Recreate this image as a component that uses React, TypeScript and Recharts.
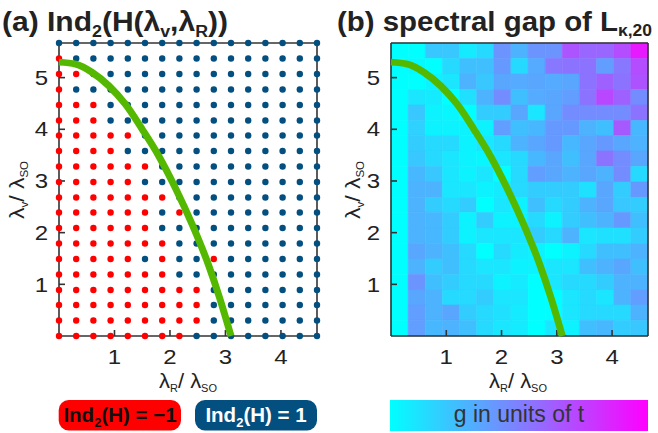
// Two-panel figure: (a) Z2 index on the (λR, λv) grid, (b) spectral gap heatmap.
// Both panels share the same axes and the green phase-boundary curve.

import { ComposedChart, ReferenceArea, Scatter, XAxis, YAxis } from 'recharts'

// grid points (in units of λSO)
const LAMBDA_R = [0, 0.31, 0.62, 0.93, 1.24, 1.55, 1.86, 2.17, 2.48, 2.79, 3.1, 3.41, 3.72, 4.03, 4.34, 4.65]
const LAMBDA_V = [
  0, 0.3, 0.6, 0.89, 1.19, 1.49, 1.79, 2.09, 2.39, 2.68, 2.98, 3.28, 3.58, 3.88, 4.17, 4.47, 4.77,
  5.07, 5.37, 5.67,
]

// Ind2 at each grid point, top row first. '-' = -1, '+' = +1
const IND2_ROWS = [
  '++++++++++++++++',
  '-+++++++++++++++',
  '--++++++++++++++',
  '-+++++++++++++++',
  '---+++++++++++++',
  '---+++++++++++++',
  '-----+++++++++++',
  '----++++++++++++',
  '------++++++++++',
  '-----+++++++++++',
  '-------+++++++++',
  '------+-++++++++',
  '------++++++++++',
  '-------+++++++++',
  '-----+-++-++++++',
  '-------+++++++++',
  '---------+++++++',
  '---------+++++++',
  '---------+++++++',
  '--------++++++++',
]

// phase boundary (green curve)
const BOUNDARY_R = [0, 0.3, 0.6, 0.9, 1.2, 1.5, 1.8, 2.1, 2.4, 2.7, 2.9, 3.1]
const BOUNDARY_V = [5.3, 5.26, 5.1, 4.84, 4.48, 4.0, 3.48, 2.86, 2.16, 1.36, 0.72, 0]

// spectral gap, normalised 0 (cyan) .. 1 (magenta); top row first, 15 cells per row
const GAP_ROWS = [
  [0, 0, 0.22, 0.22, 0.08, 0.15, 0.42, 0.3, 0.42, 0.42, 0.67, 0.6, 0.6, 0.7, 0.9],
  [0, 0.02, 0, 0.15, 0.25, 0.25, 0.4, 0.15, 0.33, 0.53, 0.55, 0.55, 0.38, 0.53, 0.7],
  [0, 0, 0.05, 0.1, 0.3, 0.22, 0.35, 0.33, 0.35, 0.33, 0.35, 0.55, 0.62, 0.55, 0.68],
  [0, 0.1, 0.08, 0, 0.12, 0.3, 0.45, 0.25, 0.33, 0.35, 0.38, 0.55, 0.72, 0.62, 0.45],
  [0, 0.22, 0.05, 0.03, 0, 0.2, 0.2, 0.35, 0.1, 0.35, 0.45, 0.45, 0.45, 0.45, 0.55],
  [0, 0.18, 0.05, 0.05, 0.05, 0.05, 0.38, 0.25, 0.28, 0.4, 0.4, 0.3, 0.25, 0.65, 0.28],
  [0, 0.2, 0.15, 0.15, 0.05, 0.1, 0.15, 0.3, 0.35, 0.4, 0.28, 0.35, 0.4, 0.35, 0.3],
  [0, 0.22, 0.15, 0.1, 0.05, 0.03, 0.1, 0.15, 0.28, 0.35, 0.25, 0.35, 0.55, 0.45, 0.35],
  [0, 0.28, 0.22, 0.1, 0.05, 0.1, 0, 0.15, 0.38, 0.35, 0.3, 0.35, 0.3, 0.45, 0.15],
  [0, 0.3, 0.3, 0.1, 0.1, 0.05, 0.08, 0.15, 0.2, 0.2, 0.2, 0.12, 0.35, 0.2, 0.4],
  [0, 0.3, 0.2, 0.15, 0.2, 0, 0.1, 0.05, 0.25, 0.15, 0.2, 0.3, 0.35, 0.22, 0.2],
  [0, 0.3, 0.28, 0.2, 0.05, 0.2, 0.05, 0.05, 0.15, 0.05, 0.2, 0.25, 0.3, 0.4, 0.25],
  [0, 0.3, 0.28, 0.2, 0.05, 0.1, 0.1, 0.1, 0.2, 0.15, 0.3, 0.1, 0.12, 0.12, 0.2],
  [0, 0.35, 0.3, 0.25, 0.15, 0, 0.15, 0.08, 0.05, 0, 0.05, 0.15, 0.25, 0.25, 0.3],
  [0, 0.3, 0.2, 0.25, 0.15, 0.1, 0.1, 0.05, 0.05, 0.1, 0.1, 0.25, 0.3, 0.35, 0.25],
  [0, 0.42, 0.25, 0.2, 0.15, 0.15, 0.05, 0.08, 0, 0.1, 0.15, 0.15, 0.2, 0.3, 0.3],
  [0, 0.35, 0.3, 0.15, 0.15, 0.2, 0.1, 0.1, 0, 0, 0.1, 0.15, 0.1, 0.3, 0.38],
  [0, 0.38, 0.3, 0.35, 0.2, 0.15, 0.12, 0.08, 0, 0, 0.1, 0.15, 0.15, 0.15, 0.3],
  [0, 0.38, 0.28, 0.3, 0.25, 0.15, 0.1, 0.08, 0, 0.1, 0.05, 0.25, 0.28, 0.2, 0.22],
]

const X_TICKS = [1, 2, 3, 4]
const Y_TICKS = [1, 2, 3, 4, 5]

const RED = '#ff0000'
const BLUE = '#024f80'
const GREEN = '#55b800'
const INK = '#222'
const AXIS = '#333'
const FONT = '"Liberation Sans", Arial, Helvetica, sans-serif'

const coolColor = (g: number) =>
  `rgb(${Math.round(255 * g)}, ${Math.round(255 * (1 - g))}, 255)`

const boundary = BOUNDARY_R.map((r, i) => ({ r, v: BOUNDARY_V[i] }))

const top = LAMBDA_V.length - 1
const dots = IND2_ROWS.flatMap((row, k) =>
  row.split('').map((c, j) => ({ r: LAMBDA_R[j], v: LAMBDA_V[top - k], ind: c === '-' ? -1 : 1 })),
)
const redDots = dots.filter((d) => d.ind < 0)
const blueDots = dots.filter((d) => d.ind > 0)

const cells = GAP_ROWS.flatMap((row, k) =>
  row.map((g, j) => ({
    x1: LAMBDA_R[j],
    x2: LAMBDA_R[j + 1],
    y1: LAMBDA_V[top - k - 1],
    y2: LAMBDA_V[top - k],
    g,
  })),
)

function XTick(props: any) {
  const { x, y, payload } = props
  return (
    <g transform={`translate(${x},${y}) scale(1.2,1)`}>
      <text textAnchor="middle" dy="0.72em" fontSize={20} fill={INK} fontFamily={FONT}>
        {payload.value}
      </text>
    </g>
  )
}

function YTick(props: any) {
  const { x, y, payload } = props
  return (
    <g transform={`translate(${x},${y}) scale(1.2,1)`}>
      <text textAnchor="end" dy="0.36em" fontSize={20} fill={INK} fontFamily={FONT}>
        {payload.value}
      </text>
    </g>
  )
}

const line = { stroke: AXIS, strokeWidth: 1.6 }

// box axes with inward ticks on all four sides
function axes(yWidth: number) {
  return [
    <XAxis
      key="xb"
      type="number"
      dataKey="r"
      domain={[0, 4.65]}
      ticks={X_TICKS}
      height={64}
      tickSize={-6}
      tickMargin={20}
      axisLine={line}
      tickLine={line}
      tick={XTick}
    />,
    <XAxis
      key="xt"
      xAxisId="top"
      orientation="top"
      type="number"
      domain={[0, 4.65]}
      ticks={X_TICKS}
      height={1}
      tickSize={-6}
      axisLine={line}
      tickLine={line}
      tick={false}
    />,
    <YAxis
      key="yl"
      type="number"
      dataKey="v"
      domain={[0, 5.67]}
      ticks={Y_TICKS}
      width={yWidth}
      tickSize={-6}
      tickMargin={17}
      axisLine={line}
      tickLine={line}
      tick={YTick}
    />,
    <YAxis
      key="yr"
      yAxisId="right"
      orientation="right"
      type="number"
      domain={[0, 5.67]}
      ticks={Y_TICKS}
      width={1}
      tickSize={-6}
      axisLine={line}
      tickLine={line}
      tick={false}
    />,
  ]
}

const boundaryScatter = (
  <Scatter
    data={boundary}
    line={{ stroke: GREEN, strokeWidth: 7 }}
    lineJointType="monotoneX"
    shape={() => <g />}
    isAnimationActive={false}
  />
)

function IndexPanel() {
  return (
    <ComposedChart width={330} height={400} margin={{ top: 42, right: 12, bottom: 0, left: 0 }}>
      {axes(59)}
      <Scatter
        data={redDots}
        shape={(p: any) => <circle cx={p.cx} cy={p.cy} r={3.2} fill={RED} />}
        isAnimationActive={false}
      />
      <Scatter
        data={blueDots}
        shape={(p: any) => <circle cx={p.cx} cy={p.cy} r={3.2} fill={BLUE} />}
        isAnimationActive={false}
      />
      {boundaryScatter}
    </ComposedChart>
  )
}

function GapPanel() {
  return (
    <ComposedChart width={330} height={400} margin={{ top: 42, right: 12, bottom: 0, left: 0 }}>
      {cells.map((c, i) => (
        <ReferenceArea
          key={i}
          x1={c.x1}
          x2={c.x2}
          y1={c.y1}
          y2={c.y2}
          fill={coolColor(c.g)}
          fillOpacity={1}
          stroke={coolColor(c.g)}
          strokeWidth={0.6}
        />
      ))}
      {axes(60)}
      {boundaryScatter}
    </ComposedChart>
  )
}

function Sub({ children, size = 16, dy = 6 }: { children: string; size?: number; dy?: number }) {
  return (
    <tspan fontSize={size} dy={dy}>
      {children}
    </tspan>
  )
}

export default function App() {
  return (
    <div
      style={{
        position: 'absolute',
        left: 0,
        top: 0,
        width: 658,
        height: 433,
        overflow: 'hidden',
        background: '#fff',
        fontFamily: FONT,
      }}
    >
      <div style={{ position: 'absolute', left: 0, top: 0 }}>
        <IndexPanel />
      </div>
      <div style={{ position: 'absolute', left: 331, top: 0 }}>
        <GapPanel />
      </div>

      <svg
        width={658}
        height={433}
        style={{ position: 'absolute', left: 0, top: 0, pointerEvents: 'none' }}
        fontFamily={FONT}
      >
        <defs>
          <linearGradient id="cool" x1="0" y1="0" x2="1" y2="0">
            <stop offset="0%" stopColor="#00ffff" />
            <stop offset="100%" stopColor="#ff00ff" />
          </linearGradient>
        </defs>

        {/* titles */}
        <text x={2} y={31} fontSize={27} fontWeight="bold" fill={INK} textLength={226} lengthAdjust="spacingAndGlyphs">
          (a) Ind<Sub>2</Sub>
          <tspan dy={-6}>(H(λ</tspan>
          <Sub>v</Sub>
          <tspan dy={-6}>,λ</tspan>
          <Sub>R</Sub>
          <tspan dy={-6}>))</tspan>
        </text>
        <text x={337} y={31} fontSize={27} fontWeight="bold" fill={INK} textLength={315} lengthAdjust="spacingAndGlyphs">
          (b) spectral gap of L<Sub dy={5}>κ,20</Sub>
        </text>

        {/* x axis labels */}
        {[159, 489].map((x) => (
          <text key={x} x={x} y={388} fontSize={20} fill={INK} textLength={58} lengthAdjust="spacingAndGlyphs">
            λ<Sub size={10} dy={4}>R</Sub>
            <tspan dy={-4}>/ λ</tspan>
            <Sub size={10} dy={4}>SO</Sub>
          </text>
        ))}

        {/* y axis labels */}
        {[24, 360].map((x) => (
          <text
            key={x}
            transform={`translate(${x},190) rotate(-90)`}
            x={-29}
            y={0}
            fontSize={20}
            fill={INK}
            textLength={58}
            lengthAdjust="spacingAndGlyphs"
          >
            λ<Sub size={10} dy={4}>v</Sub>
            <tspan dy={-4}>/ λ</tspan>
            <Sub size={10} dy={4}>SO</Sub>
          </text>
        ))}

        {/* legends */}
        <rect x={58.7} y={400} width={122.3} height={30.5} rx={10} fill={RED} />
        <text x={120} y={422} textAnchor="middle" fontSize={20.5} fontWeight="bold" fill="#111">
          Ind<Sub size={13} dy={5}>2</Sub>
          <tspan dy={-5}>(H) = −1</tspan>
        </text>
        <rect x={195} y={400} width={122} height={30.5} rx={10} fill={BLUE} />
        <text x={256} y={422} textAnchor="middle" fontSize={20.5} fontWeight="bold" fill="#fff">
          Ind<Sub size={13} dy={5}>2</Sub>
          <tspan dy={-5}>(H) = 1</tspan>
        </text>
        <rect x={390} y={400} width={258} height={31} fill="url(#cool)" />
        <text x={519} y={422} textAnchor="middle" fontSize={23} fill="#333">
          g in units of t
        </text>
      </svg>
    </div>
  )
}
